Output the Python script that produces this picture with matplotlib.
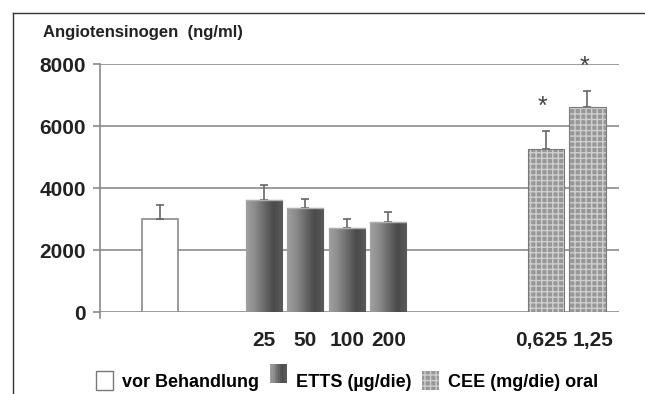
import matplotlib
matplotlib.use("Agg")
import matplotlib.pyplot as plt
import matplotlib.transforms as mtransforms
import numpy as np
from matplotlib.patches import Patch, Rectangle
from matplotlib.legend_handler import HandlerBase
from matplotlib.colors import LinearSegmentedColormap

plt.rcParams['font.family'] = ['Liberation Sans', 'DejaVu Sans']
plt.rcParams['font.weight'] = 'bold'

# Werte
vor_wert = [3000]
vor_err = [450]
etts_dosen = ['25', '50', '100', '200']
etts_werte = [3600, 3350, 2700, 2900]
etts_err = [490, 300, 300, 330]
cee_dosen = ['0,625', '1,25']
cee_werte = [5250, 6600]
cee_err = [590, 530]
cee_signifikant = [True, True]
legende = ['vor Behandlung', 'ETTS (µg/die)', 'CEE (mg/die) oral']

# Gruppenanfang auf der x-Achse
gruppen_start = [0, 2.5, 9.3]
breite = 0.87

x_vor = gruppen_start[0] + np.arange(len(vor_wert))
x_etts = gruppen_start[1] + np.arange(len(etts_werte))
x_cee = gruppen_start[2] + np.arange(len(cee_werte))

grau_cmap = LinearSegmentedColormap.from_list(
    'zyl', ['#a0a0a0', '#8a8a8a', '#6a6a6a', '#4a4a4a', '#5a5a5a'])

fig = plt.figure(figsize=(6.45, 3.94), dpi=100)
ax = fig.add_axes([100/645, 1-312/394, 519/645, 248/394])

for y in [0, 2000, 4000, 6000, 8000]:
    ax.axhline(y, color='#8a8a8a', lw=1.2, zorder=0)

err_kw = dict(ecolor='#666666', elinewidth=1.2, capsize=3, capthick=1.2)

ax.bar(x_vor, vor_wert, breite, color='white', edgecolor='#8a8a8a', lw=1.2,
       yerr=[[0]*len(vor_err), vor_err], error_kw=err_kw, zorder=2)

balken = ax.bar(x_etts, etts_werte, breite, color='#707070', edgecolor='#7a7a7a',
                lw=0.8, yerr=[[0]*len(etts_err), etts_err], error_kw=err_kw, zorder=2)
grad = np.linspace(0, 1, 64).reshape(1, -1)
for b in balken:
    x0, w, h = b.get_x(), b.get_width(), b.get_height()
    im = ax.imshow(grad, extent=[x0, x0 + w, 0, h], aspect='auto', cmap=grau_cmap,
                   zorder=2.5, interpolation='bilinear')
    im.set_clip_path(b)
    ax.plot([x0, x0 + w], [h, h], color='#b0b0b0', lw=1, zorder=2.6)

ax.bar(x_cee, cee_werte, breite, color='#979797', edgecolor='#cfcfcf', lw=0,
       hatch='+++', yerr=[[0]*len(cee_err), cee_err], error_kw=err_kw, zorder=2)
ax.bar(x_cee, cee_werte, breite, fill=False, edgecolor='#7a7a7a', lw=0.8, zorder=2.7)

for xi, w, e, s in zip(x_cee, cee_werte, cee_err, cee_signifikant):
    if s:
        ax.text(xi - 0.08, w + e + 780, '*', ha='center', va='center', fontsize=18,
                fontweight='normal', color='#444444', clip_on=False)

ax.set_xlim(-1.45, 11.06)
ax.set_ylim(0, 8000)
ax.set_yticks([0, 2000, 4000, 6000, 8000])
ax.set_yticklabels(['0', '2000', '4000', '6000', '8000'], fontsize=15,
                   fontweight='bold', color='#222222')
ax.tick_params(axis='y', length=5, width=1.2, color='#8a8a8a', pad=5)
ax.set_xticks(list(x_etts) + list(x_cee))
ax.set_xticklabels(etts_dosen + cee_dosen, fontsize=15, fontweight='bold',
                   color='#222222')
ax.tick_params(axis='x', length=0, pad=14)
# die beiden CEE-Beschriftungen etwas auseinanderschieben
labs = ax.get_xticklabels()
for lab, dx in zip(labs[-2:], [-5, 6]):
    lab.set_transform(lab.get_transform() +
                      mtransforms.ScaledTranslation(dx/100, 0, fig.dpi_scale_trans))
for s in ['top', 'right', 'bottom']:
    ax.spines[s].set_visible(False)
ax.spines['left'].set_color('#8a8a8a')
ax.spines['left'].set_linewidth(1.2)
ax.spines['left'].set_bounds(-200, 8000)

fig.text(43/645, 1-32/394, 'Angiotensinogen  (ng/ml)', fontsize=12,
         fontweight='bold', color='#222222', va='center')


class VerlaufHandler(HandlerBase):
    def create_artists(self, legend, orig, xd, yd, width, height, fontsize, trans):
        n = 10
        teile = []
        for i in range(n):
            c = grau_cmap(i / (n - 1))
            teile.append(Rectangle((xd + i*width/n, yd), width/n + 0.3, height,
                                   facecolor=c, edgecolor='none', transform=trans))
        return teile


griffe = [Patch(facecolor='white', edgecolor='#777777', lw=1),
          Patch(facecolor='#707070'),
          Patch(facecolor='#979797', edgecolor='#cfcfcf', hatch='+++', lw=0)]
fig.legend(griffe, legende, loc='center', bbox_to_anchor=(347/645, 1-381/394),
           ncol=3, frameon=False, prop={'size': 13, 'weight': 'bold'},
           handlelength=0.95, handleheight=1.25, handletextpad=0.5,
           columnspacing=0.6, handler_map={griffe[1]: VerlaufHandler()})

# Rahmen links und oben
fig.add_artist(plt.Line2D([13/645, 13/645], [0, 1-13/394], color='#333333', lw=1))
fig.add_artist(plt.Line2D([13/645, 1], [1-13/394, 1-13/394], color='#333333', lw=1))

fig.savefig('out.png', dpi=100)
